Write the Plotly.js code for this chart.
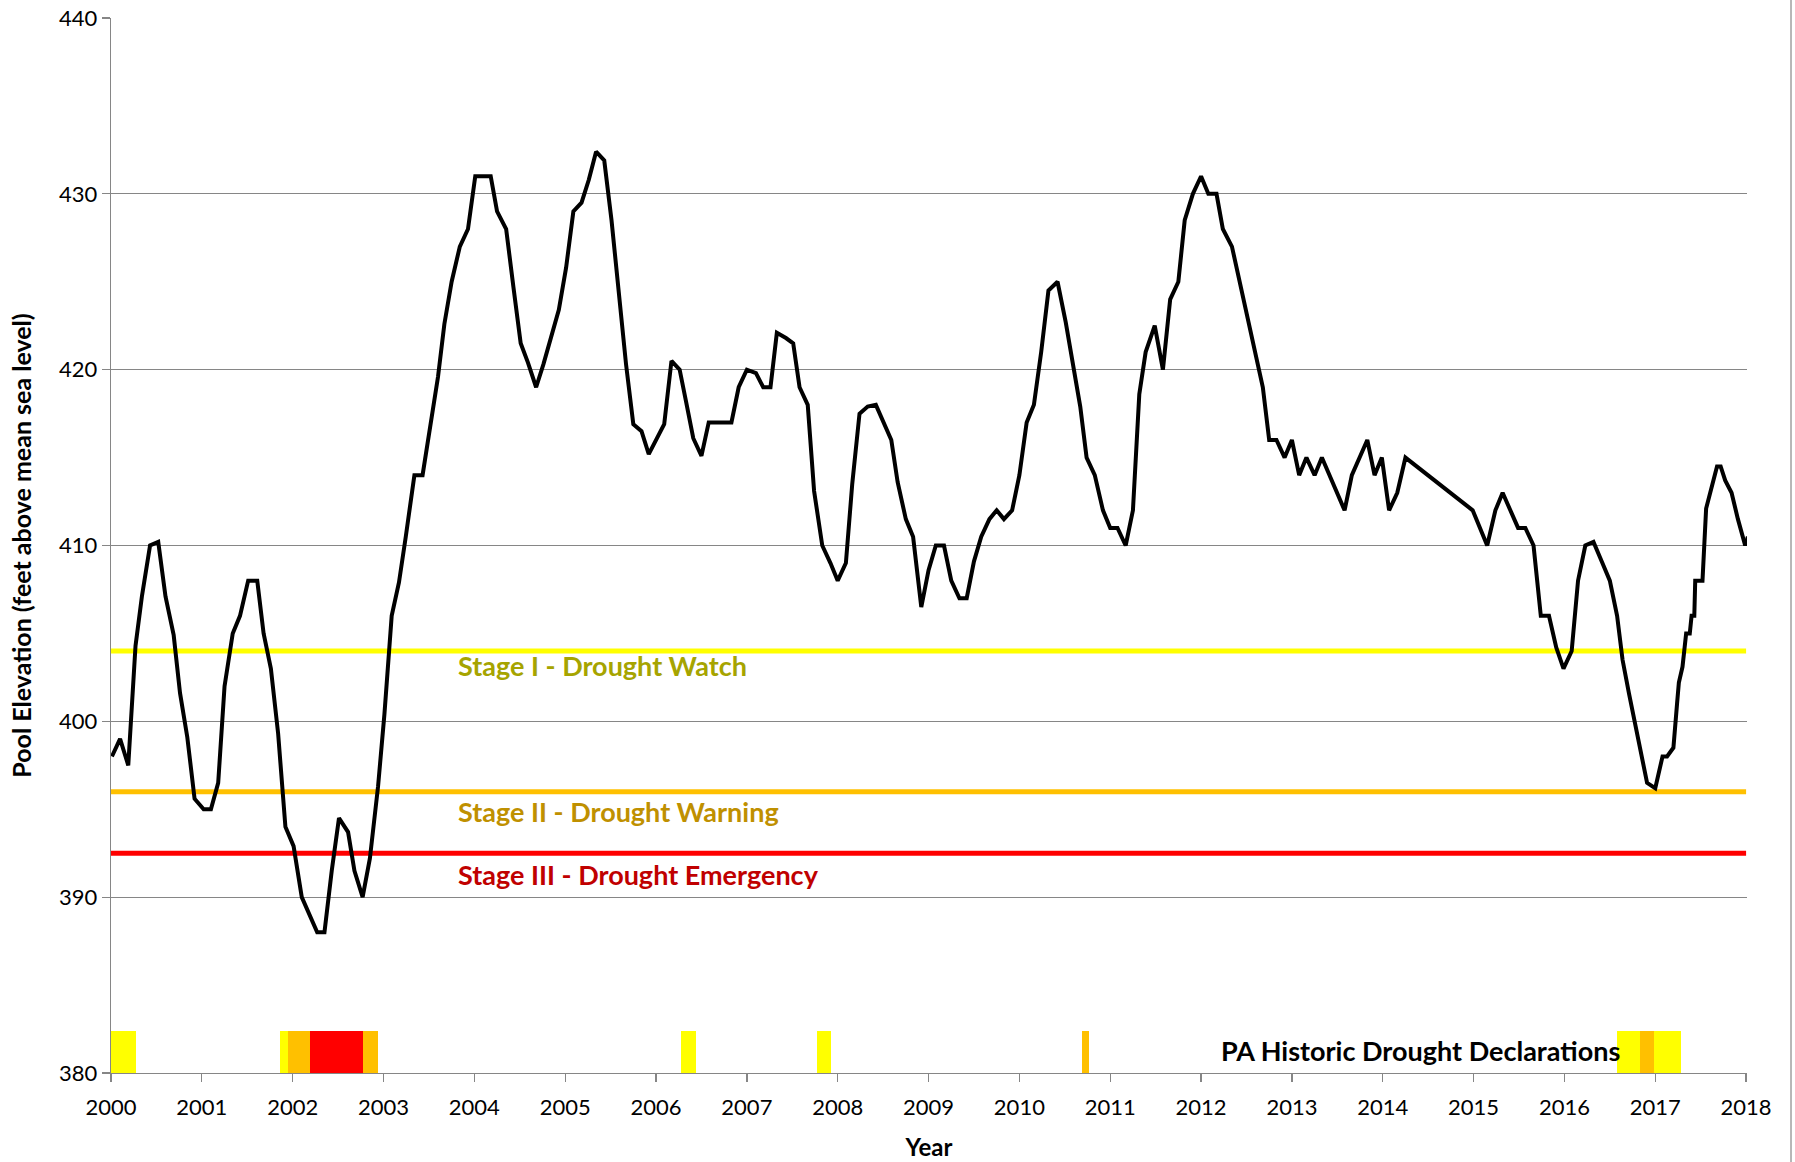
<!DOCTYPE html>
<html>
<head>
<meta charset="utf-8">
<script src="https://cdn.plot.ly/plotly-3.0.1.min.js"></script>
<style>html,body{margin:0;padding:0;background:#fff;}#chart{width:1795px;height:1162px;}</style>
</head>
<body>
<div id="chart"></div>
<script>
// Pool elevation (feet above mean sea level), decimal year
var years = [
2000.01,2000.10,2000.19,2000.27,2000.34,2000.43,2000.52,2000.60,2000.69,2000.76,2000.84,2000.92,
2001.02,2001.10,2001.18,2001.25,2001.34,2001.42,2001.51,2001.61,2001.68,2001.76,2001.84,2001.92,
2002.01,2002.10,2002.27,2002.35,2002.43,2002.51,2002.61,2002.68,2002.77,2002.85,2002.94,
2003.01,2003.09,2003.17,2003.245,2003.34,2003.43,2003.52,2003.60,2003.67,2003.75,2003.84,2003.93,
2004.01,2004.09,2004.18,2004.25,2004.35,2004.43,2004.51,2004.59,2004.68,2004.76,2004.84,2004.93,
2005.01,2005.09,2005.18,2005.26,2005.34,2005.43,2005.51,2005.59,2005.67,2005.75,2005.84,2005.92,
2006.00,2006.09,2006.17,2006.26,2006.33,2006.41,2006.50,2006.58,2006.67,2006.75,2006.83,2006.91,
2007.00,2007.10,2007.18,2007.26,2007.33,2007.43,2007.51,2007.58,2007.67,2007.74,2007.83,2007.92,
2008.00,2008.09,2008.16,2008.24,2008.33,2008.42,2008.50,2008.59,2008.66,2008.75,2008.83,2008.92,
2009.00,2009.08,2009.17,2009.25,2009.34,2009.42,2009.50,2009.58,2009.67,2009.75,2009.83,2009.92,
2010.00,2010.08,2010.16,2010.24,2010.32,2010.42,2010.51,2010.59,2010.67,2010.74,2010.83,2010.92,
2011.00,2011.08,2011.17,2011.25,2011.32,2011.39,2011.49,2011.58,2011.66,2011.75,2011.82,2011.91,
2012.00,2012.08,2012.17,2012.24,2012.34,2012.68,2012.75,2012.83,2012.92,
2013.00,2013.08,2013.16,2013.25,2013.33,2013.58,2013.66,2013.74,2013.83,2013.91,2013.99,
2014.07,2014.16,2014.25,2014.99,
2015.15,2015.24,2015.32,2015.49,2015.57,2015.66,2015.74,2015.83,2015.91,2015.99,
2016.08,2016.15,2016.23,2016.32,2016.41,2016.50,2016.58,2016.64,2016.71,2016.82,2016.91,
2017.00,2017.08,2017.13,2017.20,2017.24,2017.26,2017.30,2017.34,2017.38,2017.40,2017.43,2017.44,
2017.52,2017.55,2017.56,2017.68,2017.72,2017.77,2017.84,2017.91,2017.99,2018.02
];
var elevation = [
398.0,399.0,397.5,404.3,407.1,410.0,410.2,407.1,404.9,401.6,399.1,395.6,
395.0,395.0,396.5,402.0,405.0,406.0,408.0,408.0,405.0,403.0,399.3,394.0,
392.9,390.0,388.0,388.0,391.5,394.5,393.7,391.5,390.0,392.2,396.3,
400.4,406.0,407.9,410.5,414.0,414.0,417.1,419.6,422.6,425.0,427.0,428.0,
431.0,431.0,431.0,429.0,428.0,424.7,421.5,420.4,419.0,420.3,421.8,423.4,
425.8,429.0,429.5,430.8,432.4,431.9,428.5,424.1,420.3,416.9,416.5,415.2,
416.0,416.9,420.5,420.0,418.2,416.1,415.1,417.0,417.0,417.0,417.0,419.0,
420.0,419.8,419.0,419.0,422.1,421.8,421.5,419.0,418.0,413.1,410.0,409.0,
408.0,409.0,413.5,417.5,417.9,418.0,417.0,416.0,413.6,411.5,410.5,406.5,
408.6,410.0,410.0,408.0,407.0,407.0,409.1,410.5,411.5,412.0,411.5,412.0,
414.0,417.0,418.0,421.0,424.5,425.0,422.7,420.4,417.9,415.0,414.0,412.0,
411.0,411.0,410.0,412.0,418.6,421.0,422.5,420.0,424.0,425.0,428.5,430.0,
431.0,430.0,430.0,428.0,427.0,419.0,416.0,416.0,415.0,
416.0,414.0,415.0,414.0,415.0,412.0,414.0,415.0,416.0,414.0,415.0,
412.0,413.0,415.0,412.0,
410.0,412.0,413.0,411.0,411.0,410.0,406.0,406.0,404.2,403.0,
404.0,408.0,410.0,410.2,409.1,408.0,406.0,403.5,401.6,398.9,396.5,
396.2,398.0,398.0,398.5,401.0,402.2,403.1,405.0,405.0,406.0,406.0,408.0,
408.0,410.5,412.1,414.5,414.5,413.7,413.0,411.5,410.0,410.5
];

// Drought stage thresholds
var stageNames = ["Stage I - Drought Watch", "Stage II - Drought Warning", "Stage III - Drought Emergency"];
var stageLevels = [404, 396, 392.5];
var stageLabelY = [403.2, 394.85, 391.3];
var stageLineColors = ["#FFFF00", "#FFC000", "#FF0000"];
var stageTextColors = ["#A6A400", "#BF9000", "#C00000"];
var stageSpan = [2000, 2018];

// PA historic drought declarations (start, end) in decimal years
var watchStart = [2000.00, 2001.86, 2006.28, 2007.77, 2016.58, 2016.99];
var watchEnd   = [2000.27, 2001.95, 2006.44, 2007.93, 2016.83, 2017.28];
var warningStart = [2001.95, 2002.77, 2010.69, 2016.83];
var warningEnd   = [2002.19, 2002.94, 2010.77, 2016.99];
var emergencyStart = [2002.19];
var emergencyEnd   = [2002.77];
var declarationHeight = 2.4;

var yTicks = [380, 390, 400, 410, 420, 430, 440];
var xTicks = [];
for (var yr = 2000; yr <= 2018; yr++) xTicks.push(yr);

function barTrace(starts, ends, color) {
  var xs = [], ws = [], ys = [];
  for (var i = 0; i < starts.length; i++) {
    xs.push((starts[i] + ends[i]) / 2);
    ws.push(ends[i] - starts[i]);
    ys.push(declarationHeight);
  }
  return {type: 'bar', x: xs, y: ys, width: ws, base: 380, marker: {color: color, line: {width: 0}},
          hoverinfo: 'skip', showlegend: false};
}

var traces = [
  barTrace(watchStart, watchEnd, stageLineColors[0]),
  barTrace(warningStart, warningEnd, stageLineColors[1]),
  barTrace(emergencyStart, emergencyEnd, stageLineColors[2])
];
for (var s = 0; s < stageLevels.length; s++) {
  traces.push({type: 'scatter', mode: 'lines', x: stageSpan, y: [stageLevels[s], stageLevels[s]],
    line: {color: stageLineColors[s], width: 5}, showlegend: false, hoverinfo: 'skip'});
}
traces.push({type: 'scatter', mode: 'lines', x: years, y: elevation,
  line: {color: '#000000', width: 4}, showlegend: false, cliponaxis: false});

var annotations = [];
for (var s2 = 0; s2 < stageNames.length; s2++) {
  annotations.push({x: 2003.8, y: stageLabelY[s2], xref: 'x', yref: 'y', xanchor: 'left', yanchor: 'middle',
    text: '<b>' + stageNames[s2] + '</b>', showarrow: false,
    font: {family: 'Lato, sans-serif', size: 27, color: stageTextColors[s2]}});
}
annotations.push({x: 2016.63, y: 381.3, xref: 'x', yref: 'y', xanchor: 'right', yanchor: 'middle',
  text: '<b>PA Historic Drought Declarations</b>', showarrow: false,
  font: {family: 'Lato, sans-serif', size: 27, color: '#000000'}});

var layout = {
  width: 1795, height: 1162,
  margin: {l: 111, r: 48, t: 18, b: 89},
  paper_bgcolor: '#ffffff', plot_bgcolor: '#ffffff',
  barmode: 'overlay', bargap: 0,
  showlegend: false,
  font: {family: 'Lato, sans-serif', color: '#000000'},
  xaxis: {
    range: [2000, 2018.01], tickvals: xTicks, ticktext: xTicks.map(String),
    showgrid: false, zeroline: false,
    showline: true, linecolor: '#868686', linewidth: 1.3,
    ticks: 'outside', ticklen: 8, tickwidth: 1.3, tickcolor: '#868686',
    ticklabelstandoff: 6,
    tickfont: {family: 'Lato, sans-serif', size: 22, color: '#000000'},
    title: {text: '<b>Year</b>', font: {family: 'Lato, sans-serif', size: 24, color: '#000000'}, standoff: 20}
  },
  yaxis: {
    range: [380, 440], tickvals: yTicks, ticktext: yTicks.map(String),
    showgrid: true, gridcolor: '#868686', gridwidth: 1.3, zeroline: false,
    showline: true, linecolor: '#868686', linewidth: 1.3,
    ticks: 'outside', ticklen: 8, tickwidth: 1.3, tickcolor: '#868686',
    tickfont: {family: 'Lato, sans-serif', size: 22, color: '#000000'},
    title: {text: '<b>Pool Elevation (feet above mean sea level)</b>', font: {family: 'Lato, sans-serif', size: 25, color: '#000000'}, standoff: 20}
  },
  annotations: annotations,
  shapes: [
    {type: 'line', xref: 'paper', yref: 'paper', x0: 1.0269, x1: 1.0269, y0: -0.09, y1: 1.02,
     line: {color: '#A0A0A0', width: 1.5}}
  ]
};

Plotly.newPlot('chart', traces, layout, {displayModeBar: false, staticPlot: true});
</script>
</body>
</html>
